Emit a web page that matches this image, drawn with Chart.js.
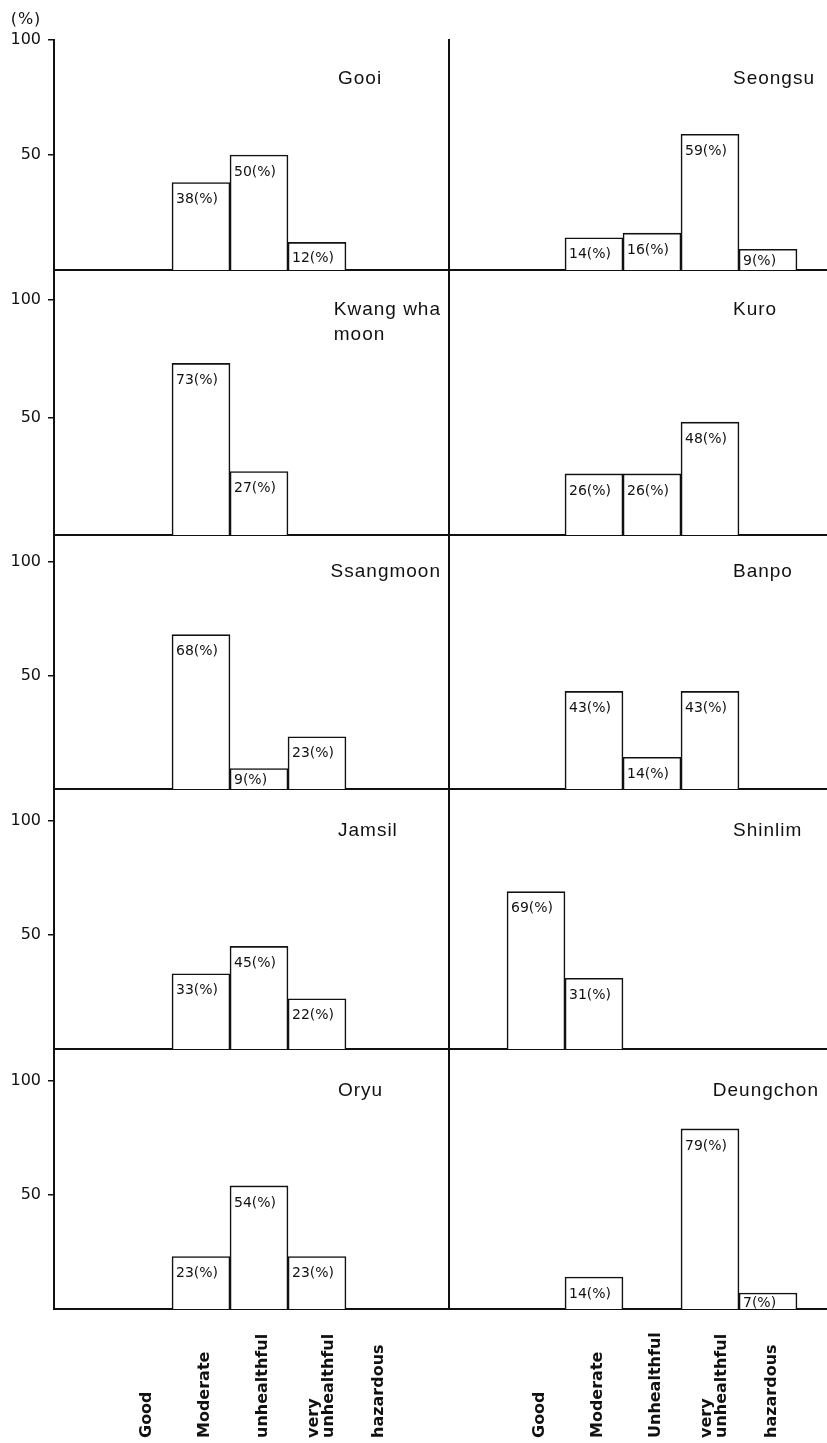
<!DOCTYPE html>
<html>
<head>
<meta charset="utf-8">
<script src="https://cdn.jsdelivr.net/npm/chart.js@4.4.1/dist/chart.umd.min.js"></script>
<style>
  html, body { margin: 0; padding: 0; background: #fff; }
  #wrap { position: relative; width: 827px; height: 1443px; overflow: hidden; }
  .panel { position: absolute; }
</style>
</head>
<body>
<div id="wrap"></div>
<script>
// categories (the two columns spell them slightly differently)
const leftCategories = ['Good', 'Moderate', 'unhealthful', ['very', 'unhealthful'], 'hazardous'];
const rightCategories = ['Good', 'Moderate', 'Unhealthful', ['very', 'unhealthful'], 'hazardous'];

const leftStations = ['Gooi', ['Kwang wha', 'moon'], 'Ssangmoon', 'Jamsil', 'Oryu'];
const rightStations = ['Seongsu', 'Kuro', 'Banpo', 'Shinlim', 'Deungchon'];

// % per category: Good, Moderate, unhealthful, very unhealthful, hazardous
const gooi = [0, 38, 50, 12, 0];
const kwangWhaMoon = [0, 73, 27, 0, 0];
const ssangmoon = [0, 68, 9, 23, 0];
const jamsil = [0, 33, 45, 22, 0];
const oryu = [0, 23, 54, 23, 0];

const seongsu = [0, 14, 16, 59, 9];
const kuro = [0, 26, 26, 48, 0];
const banpo = [0, 43, 14, 43, 0];
const shinlim = [69, 31, 0, 0, 0];
const deungchon = [0, 14, 0, 79, 7];

const yTicks = [50, 100];

// page geometry of the panel grid
const hundredY = [40, 300, 562, 821, 1081];
const baseY = [270, 535, 789, 1049, 1309];
const BAR_W = 58;
const INK = '#111';

const columns = [
  { left: 0, width: 449, axisW: 54, goodCenter: 143, titleX: 338, yLabels: true,
    cats: leftCategories, stations: leftStations,
    series: [gooi, kwangWhaMoon, ssangmoon, jamsil, oryu] },
  { left: 440, width: 387, axisW: 9, goodCenter: 536, titleX: 733, yLabels: false,
    cats: rightCategories, stations: rightStations,
    series: [seongsu, kuro, banpo, shinlim, deungchon] }
];

// value labels, station names, category names, unit
const panelText = {
  id: 'panelText',
  afterDatasetsDraw(chart, args, opts) {
    const ctx = chart.ctx;
    const area = chart.chartArea;
    const xs = chart.scales.x;
    const y100 = chart.scales.y.getPixelForValue(100);
    const meta = chart.getDatasetMeta(0);
    const data = chart.data.datasets[0].data;

    ctx.save();
    ctx.fillStyle = INK;

    // numbers inside the bars
    ctx.font = '14px "DejaVu Sans"';
    ctx.textAlign = 'left';
    ctx.textBaseline = 'middle';
    meta.data.forEach((bar, i) => {
      const v = data[i].y;
      if (!v) return;
      const h = bar.base - bar.y;
      const ty = Math.min(bar.y + 17, bar.y + h / 2 + 2);
      ctx.fillText(v + '(%)', bar.x - bar.width / 2 + 4, ty);
    });

    // station name, kept clear of the panel's right edge
    ctx.font = '19px "Liberation Sans"';
    ctx.letterSpacing = '1px';
    ctx.textBaseline = 'alphabetic';
    const lines = Array.isArray(opts.station) ? opts.station : [opts.station];
    const widest = Math.max(...lines.map(ln => ctx.measureText(ln).width));
    const tx = Math.min(opts.titleX, area.right - 8 - widest);
    lines.forEach((ln, k) => {
      ctx.fillText(ln, tx, y100 + opts.titleDy + k * 25);
    });

    // unit label above the first axis
    if (opts.showUnit) {
      ctx.font = '16px "DejaVu Sans"';
      ctx.textAlign = 'center';
      ctx.textBaseline = 'middle';
      ctx.fillText('(%)', area.left - 28, y100 - 20);
    }
    ctx.letterSpacing = '0px';

    // category names under the bottom row
    if (opts.showCats) {
      ctx.font = 'bold 16px "DejaVu Sans"';
      ctx.textAlign = 'left';
      ctx.textBaseline = 'middle';
      opts.cats.forEach((c, i) => {
        const parts = Array.isArray(c) ? c : [c];
        const cx = xs.getPixelForValue(i + 1) + 4;
        parts.forEach((p, j) => {
          const off = (j - (parts.length - 1) / 2) * 15;
          ctx.save();
          ctx.translate(cx + off, area.bottom + 129);
          ctx.rotate(-Math.PI / 2);
          ctx.fillText(p, 0, 0);
          ctx.restore();
        });
      });
    }
    ctx.restore();
  }
};

const wrap = document.getElementById('wrap');

columns.forEach(col => {
  col.series.forEach((values, r) => {
    const areaTop = r === 0 ? hundredY[0] : baseY[r - 1];
    const padTop = r === 0 ? 40 : 22;
    const padBottom = r === 4 ? 134 : 22;
    const top = areaTop - padTop;
    const height = baseY[r] + padBottom - top;
    const yMax = 100 * (baseY[r] - areaTop) / (baseY[r] - hundredY[r]);

    const plotLeft = col.left + col.axisW;
    const xMin = 1 - (col.goodCenter - plotLeft) / BAR_W;
    const xMax = xMin + (col.width - col.axisW) / BAR_W;

    const box = document.createElement('div');
    box.className = 'panel';
    box.style.left = col.left + 'px';
    box.style.top = top + 'px';
    box.style.width = col.width + 'px';
    box.style.height = height + 'px';
    const canvas = document.createElement('canvas');
    box.appendChild(canvas);
    wrap.appendChild(box);

    new Chart(canvas.getContext('2d'), {
      type: 'bar',
      data: {
        datasets: [{
          data: values.map((v, i) => ({ x: i + 1, y: v })),
          backgroundColor: '#fff',
          borderColor: INK,
          borderWidth: 1.6,
          barPercentage: 1,
          categoryPercentage: 1
        }]
      },
      options: {
        responsive: true,
        maintainAspectRatio: false,
        animation: false,
        events: [],
        layout: { padding: { top: padTop, bottom: padBottom, left: 0, right: 0 } },
        plugins: {
          legend: { display: false },
          tooltip: { enabled: false },
          panelText: {
            station: col.stations[r],
            titleX: col.titleX - col.left,
            titleDy: r === 0 ? 44 : 15,
            showUnit: col.yLabels && r === 0,
            showCats: r === 4,
            cats: col.cats
          }
        },
        scales: {
          x: {
            type: 'linear',
            min: xMin,
            max: xMax,
            offset: false,
            afterBuildTicks: s => { s.ticks = col.cats.map((c, i) => ({ value: i + 1 })); },
            afterFit: s => { s.height = 0; },
            grid: { display: false, offset: false },
            border: { display: true, color: INK, width: 2 },
            ticks: { display: false }
          },
          y: {
            min: 0,
            max: yMax,
            afterBuildTicks: s => { s.ticks = yTicks.map(v => ({ value: v })); },
            afterFit: s => { s.width = col.axisW; },
            grid: {
              display: col.yLabels,
              drawOnChartArea: false,
              drawTicks: true,
              tickLength: 6,
              color: INK,
              lineWidth: 1.5
            },
            border: { display: true, color: INK, width: 2 },
            ticks: {
              display: col.yLabels,
              padding: 7,
              color: INK,
              font: { family: 'DejaVu Sans', size: 16 }
            }
          }
        }
      },
      plugins: [panelText]
    });
  });
});
</script>
</body>
</html>
